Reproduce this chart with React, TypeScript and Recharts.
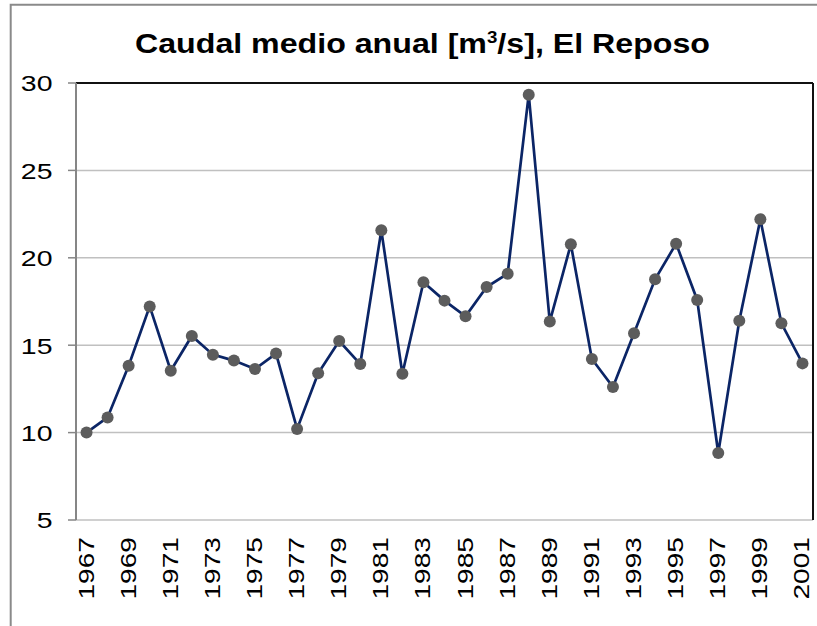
import React from 'react';
import { LineChart, Line, XAxis, YAxis, CartesianGrid, ReferenceLine } from 'recharts';

const years = [
  1967, 1968, 1969, 1970, 1971, 1972, 1973, 1974, 1975, 1976,
  1977, 1978, 1979, 1980, 1981, 1982, 1983, 1984, 1985, 1986,
  1987, 1988, 1989, 1990, 1991, 1992, 1993, 1994, 1995, 1996,
  1997, 1998, 1999, 2000, 2001,
];
const caudal = [
  10.0, 10.87, 13.83, 17.22, 13.54, 15.53, 14.46, 14.12, 13.64, 14.52,
  10.21, 13.39, 15.24, 13.92, 21.57, 13.37, 18.6, 17.55, 16.65, 18.33,
  19.09, 29.33, 16.35, 20.77, 14.21, 12.61, 15.68, 18.77, 20.81, 17.59,
  8.83, 16.4, 22.2, 16.25, 13.96,
];
const yTicks = [5, 10, 15, 20, 25, 30];
const xTickLabels = [
  1967, 1969, 1971, 1973, 1975, 1977, 1979, 1981, 1983, 1985,
  1987, 1989, 1991, 1993, 1995, 1997, 1999, 2001,
];
const title = 'Caudal medio anual [m';
const titleSup = '3';
const titleEnd = '/s], El Reposo';

const data = years.map((year, i) => ({ year, caudal: caudal[i] }));
const xDomain: [number, number] = [years[0] - 0.5, years[years.length - 1] + 0.5];
const boundaryTicks = [...years.map((y) => y - 0.5), years[years.length - 1] + 0.5];

const FONT = '"Liberation Sans", Arial, sans-serif';
const AXIS_GRAY = '#868686';

const YTick = (props: any) => {
  const { x, y, payload } = props;
  return (
    <text
      transform={`translate(${x},${y + 8.3}) scale(1.26,1)`}
      textAnchor="end"
      fontFamily={FONT}
      fontSize={22.6}
      fill="#000"
    >
      {payload.value}
    </text>
  );
};

const XTick = (props: any) => {
  const { x, y, payload } = props;
  return (
    <text
      transform={`translate(${x + 7},${y}) rotate(-90) scale(1.26,1)`}
      textAnchor="end"
      fontFamily={FONT}
      fontSize={22.3}
      fill="#000"
    >
      {payload.value}
    </text>
  );
};

export default function App() {
  return (
    <div
      style={{
        position: 'absolute',
        left: 0,
        top: 0,
        width: 817,
        height: 626,
        overflow: 'hidden',
        background: '#fff',
      }}
    >
      <LineChart
        width={817}
        height={626}
        data={data}
        margin={{ top: 83, right: 4, bottom: 0, left: 0 }}
      >
        <CartesianGrid
          xAxisId="labels"
          vertical={false}
          stroke="#c0c0c0"
          strokeWidth={1.5}
        />
        <XAxis
          xAxisId="marks"
          type="number"
          dataKey="year"
          domain={xDomain}
          ticks={boundaryTicks}
          interval={0}
          tick={false}
          tickSize={7}
          height={0}
          axisLine={{ stroke: AXIS_GRAY, strokeWidth: 2 }}
          tickLine={{ stroke: AXIS_GRAY, strokeWidth: 1.5 }}
          allowDataOverflow
        />
        <XAxis
          xAxisId="labels"
          type="number"
          dataKey="year"
          domain={xDomain}
          ticks={xTickLabels}
          interval={0}
          tick={<XTick />}
          tickSize={7}
          tickMargin={10}
          height={106}
          axisLine={false}
          tickLine={false}
          allowDataOverflow
        />
        <YAxis
          type="number"
          domain={[5, 30]}
          ticks={yTicks}
          interval={0}
          width={76}
          tickSize={8}
          tickMargin={15.5}
          tick={<YTick />}
          axisLine={{ stroke: AXIS_GRAY, strokeWidth: 2 }}
          tickLine={{ stroke: AXIS_GRAY, strokeWidth: 1.5 }}
          allowDataOverflow
        />
        <ReferenceLine xAxisId="labels" y={30} stroke="#111" strokeWidth={2} />
        <ReferenceLine xAxisId="labels" x={xDomain[1]} stroke="#111" strokeWidth={2} />
        <Line
          xAxisId="labels"
          type="linear"
          dataKey="caudal"
          stroke="#0b2566"
          strokeWidth={2.7}
          dot={{ r: 6, fill: '#5c5c5c', stroke: 'none' }}
          activeDot={false}
          isAnimationActive={false}
        />
      </LineChart>
      <svg
        width={817}
        height={626}
        style={{ position: 'absolute', left: 0, top: 0, pointerEvents: 'none' }}
      >
        <path d="M 10.7 626 V 4.7 H 817" fill="none" stroke="#8a8a8a" strokeWidth={2} />
        <text
          transform="translate(135,53.3) scale(1.17,1)"
          fontFamily={FONT}
          fontWeight="bold"
          fontSize={27.5}
          fill="#000"
        >
          {title}
          <tspan fontSize={16} dy={-10}>{titleSup}</tspan>
          <tspan dy={10}>{titleEnd}</tspan>
        </text>
      </svg>
    </div>
  );
}
